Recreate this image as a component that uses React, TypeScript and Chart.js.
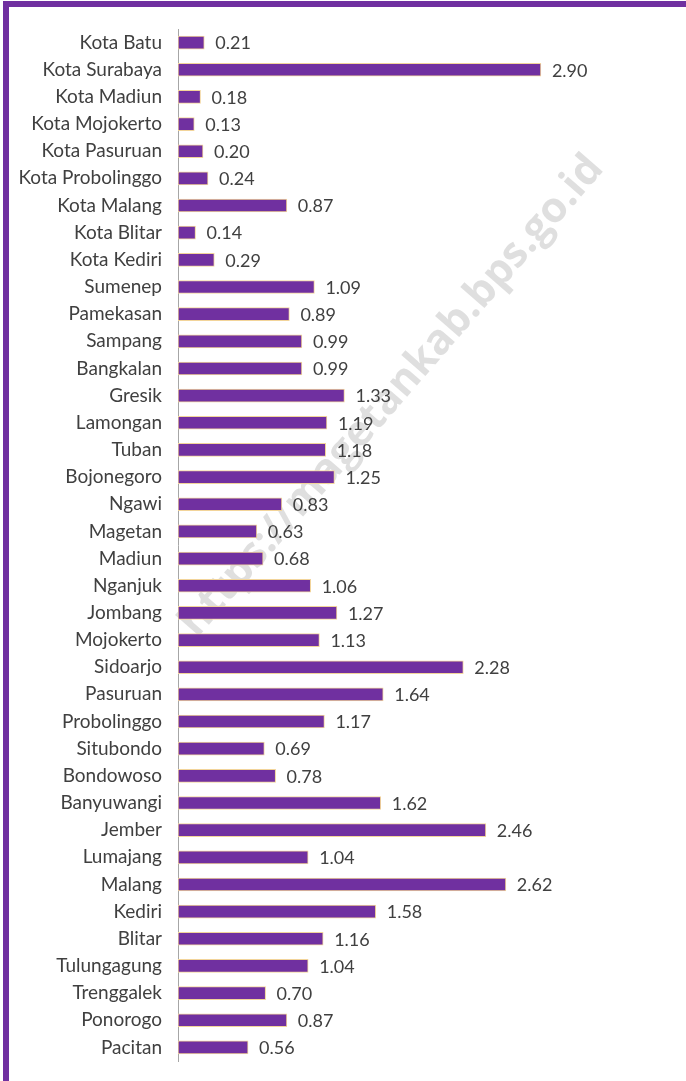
import React, { useEffect, useRef } from "react";
import { Chart, registerables } from "chart.js";

Chart.register(...registerables);

const regions: string[] = [
  "Kota Batu", "Kota Surabaya", "Kota Madiun", "Kota Mojokerto", "Kota Pasuruan",
  "Kota Probolinggo", "Kota Malang", "Kota Blitar", "Kota Kediri", "Sumenep",
  "Pamekasan", "Sampang", "Bangkalan", "Gresik", "Lamongan", "Tuban", "Bojonegoro",
  "Ngawi", "Magetan", "Madiun", "Nganjuk", "Jombang", "Mojokerto", "Sidoarjo",
  "Pasuruan", "Probolinggo", "Situbondo", "Bondowoso", "Banyuwangi", "Jember",
  "Lumajang", "Malang", "Kediri", "Blitar", "Tulungagung", "Trenggalek", "Ponorogo",
  "Pacitan",
];

const values: number[] = [
  0.21, 2.9, 0.18, 0.13, 0.2, 0.24, 0.87, 0.14, 0.29, 1.09,
  0.89, 0.99, 0.99, 1.33, 1.19, 1.18, 1.25,
  0.83, 0.63, 0.68, 1.06, 1.27, 1.13, 2.28,
  1.64, 1.17, 0.69, 0.78, 1.62, 2.46,
  1.04, 2.62, 1.58, 1.16, 1.04, 0.7, 0.87,
  0.56,
];

const watermarkText = "https://magetankab.bps.go.id";

const FONT = "Lato, 'Open Sans', sans-serif";

const watermarkPlugin = {
  id: "watermark",
  beforeDatasetsDraw(chart: any) {
    const ctx = chart.ctx;
    ctx.save();
    ctx.translate(392, 396);
    ctx.rotate((-49 * Math.PI) / 180);
    ctx.font = `bold 42px 'Open Sans', sans-serif`;
    ctx.fillStyle = "rgba(185,185,185,0.45)";
    ctx.textAlign = "center";
    ctx.textBaseline = "middle";
    ctx.fillText(watermarkText, 0, 0);
    ctx.restore();
  },
};

const valueLabelPlugin = {
  id: "valueLabels",
  afterDatasetsDraw(chart: any) {
    const ctx = chart.ctx;
    const meta = chart.getDatasetMeta(0);
    ctx.save();
    ctx.font = `18px ${FONT}`;
    ctx.fillStyle = "#404040";
    ctx.textAlign = "left";
    ctx.textBaseline = "middle";
    meta.data.forEach((el: any, i: number) => {
      const v = chart.data.datasets[0].data[i] as number;
      ctx.fillText(v.toFixed(2), el.x + 11, el.y + 1);
    });
    ctx.restore();
  },
};

export default function App() {
  const ref = useRef<HTMLCanvasElement | null>(null);

  useEffect(() => {
    if (!ref.current) return;
    const chart = new Chart(ref.current, {
      type: "bar",
      data: {
        labels: regions,
        datasets: [
          {
            data: values,
            backgroundColor: "#7030A0",
            borderColor: "#F2D49A",
            borderWidth: 1,
            borderSkipped: false,
            barThickness: 13,
          },
        ],
      },
      options: {
        indexAxis: "y",
        responsive: false,
        animation: false,
        devicePixelRatio: 1,
        layout: { padding: { top: 29, bottom: 20, left: 0, right: 70 } },
        plugins: {
          legend: { display: false },
          tooltip: { enabled: false },
        },
        scales: {
          x: {
            display: false,
            min: 0,
            max: 3.5,
          },
          y: {
            afterFit: (s: any) => {
              s.width = 178;
            },
            grid: {
              display: true,
              drawOnChartArea: false,
              drawTicks: true,
              tickLength: 16,
              tickColor: "rgba(0,0,0,0)",
            },
            border: { display: true, color: "#A6A6A6", width: 1 },
            ticks: {
              autoSkip: false,
              padding: 0,
              color: "#404040",
              font: { family: FONT, size: 19 },
            },
          },
        },
      },
      plugins: [watermarkPlugin, valueLabelPlugin],
    });
    return () => chart.destroy();
  }, []);

  return (
    <div
      style={{
        position: "fixed",
        left: 0,
        top: 0,
        width: 686,
        height: 1081,
        background: "#ffffff",
      }}
    >
      <canvas ref={ref} width={686} height={1081} style={{ position: "absolute", left: 0, top: 0 }} />
      <div
        style={{
          position: "absolute",
          left: 3,
          top: 1,
          width: 683,
          height: 1080,
          boxSizing: "border-box",
          borderTop: "6px solid #7030A0",
          borderLeft: "6px solid #7030A0",
          pointerEvents: "none",
        }}
      />
    </div>
  );
}
